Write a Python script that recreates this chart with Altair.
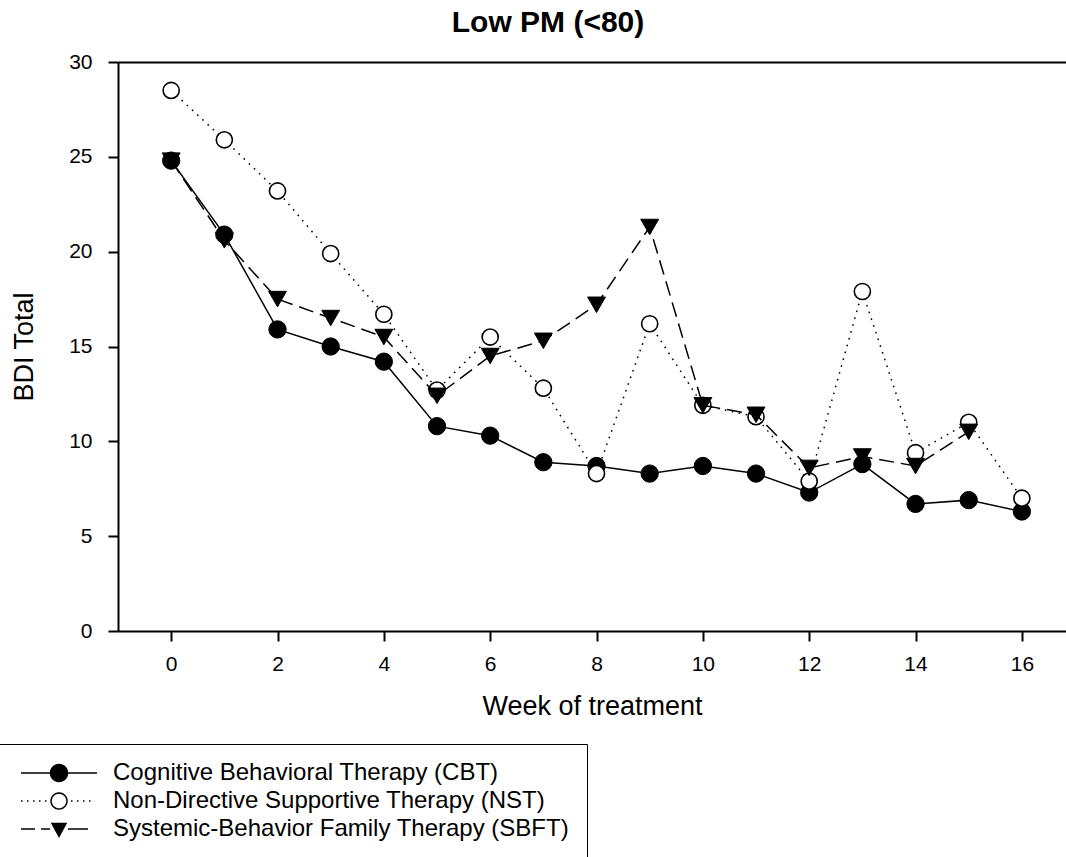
import math
import altair as alt
import pandas as pd

# ---------------- data ----------------
weeks = list(range(17))
series_names = [
    "Cognitive Behavioral Therapy (CBT)",
    "Non-Directive Supportive Therapy (NST)",
    "Systemic-Behavior Family Therapy (SBFT)",
]
cbt = [24.8, 20.9, 15.9, 15.0, 14.2, 10.8, 10.3, 8.9, 8.7, 8.3, 8.7, 8.3, 7.3, 8.8, 6.7, 6.9, 6.3]
nst = [28.5, 25.9, 23.2, 19.9, 16.7, 12.7, 15.5, 12.8, 8.3, 16.2, 11.9, 11.3, 7.9, 17.9, 9.4, 11.0, 7.0]
sbft = [24.8, 20.6, 17.5, 16.5, 15.5, 12.4, 14.5, 15.3, 17.2, 21.3, 11.9, 11.4, 8.6, 9.2, 8.7, 10.5]
x_ticks = [0, 2, 4, 6, 8, 10, 12, 14, 16]
y_ticks = [0, 5, 10, 15, 20, 25, 30]

rows = []
for name, vals in zip(series_names, [cbt, nst, sbft]):
    for w, v in zip(weeks, vals):
        rows.append({"week": w, "value": v, "series": name})
df = pd.DataFrame(rows)

FONT = "Liberation Sans"

# ---------------- legend symbols (custom paths: line + marker) ----------------
def circle_path(r, n=28):
    pts = [(r * math.cos(2 * math.pi * i / n), r * math.sin(2 * math.pi * i / n)) for i in range(n)]
    return "M" + "L".join(f"{x:.3f},{y:.3f}" for x, y in pts) + "Z"

sym_cbt = "M-3.8,0L3.8,0" + circle_path(0.85)
dots = [-3.8, -3.2, -2.6, -2.0, -1.4] + [1.2, 1.8, 2.4, 3.0]
sym_nst = "".join(f"M{d:.2f},0L{d + 0.15:.2f},0" for d in dots) + circle_path(0.8)
sym_sbft = ("M-3.8,0L-2.4,0M-1.8,0L-0.9,0M0.9,0L2.9,0"
            "M-0.7,-0.55L0.7,-0.55L0,0.75Z")
legend_paths = [sym_cbt, sym_nst, sym_sbft]

# ---------------- scales / axes ----------------
xscale = alt.Scale(domain=[-1, 16.83], nice=False, zero=False)
yscale = alt.Scale(domain=[0, 30], nice=False, zero=False)

x_axis_bottom = alt.Axis(
    values=x_ticks, format="d", title="Week of treatment", grid=False,
    labelFont=FONT, labelFontSize=21, labelColor="black", labelPadding=12,
    titleFont=FONT, titleFontSize=27, titleFontWeight="normal", titleColor="black",
    titlePadding=19, tickSize=10, tickWidth=2, tickColor="black",
    domainColor="black", domainWidth=2,
)
x_axis_top = alt.Axis(
    orient="top", ticks=False, labels=False, title=None, grid=False,
    domainColor="black", domainWidth=2,
)
y_axis = alt.Axis(
    values=y_ticks, format="d", title="BDI Total", grid=False,
    labelFont=FONT, labelFontSize=21, labelColor="black", labelPadding=16,
    titleFont=FONT, titleFontSize=27, titleFontWeight="normal", titleColor="black",
    titlePadding=30, tickSize=10, tickWidth=2, tickColor="black",
    domainColor="black", domainWidth=2,
)

Y = alt.Y("value:Q", scale=yscale, axis=y_axis)

styles = [
    # name, dash, shape, fill, size, marker stroke width
    (series_names[0], None, "circle", "black", 300, 1),
    (series_names[1], [1.6, 5.5], "circle", "white", 260, 1.6),
    (series_names[2], [15, 7], "triangle-down", "black", 320, 1),
]

layers = []
for i, (name, dash, shape, fill, size, msw) in enumerate(styles):
    sub = df[df["series"] == name]
    line_kw = dict(color="black", strokeWidth=1.5)
    if dash is not None:
        line_kw["strokeDash"] = dash
    if i == 0:
        xl = alt.X("week:Q", scale=xscale, axis=x_axis_bottom)
        xp = alt.X("week:Q", scale=xscale, axis=x_axis_top)
    else:
        xl = alt.X("week:Q", scale=xscale, axis=None)
        xp = alt.X("week:Q", scale=xscale, axis=None)
    line = alt.Chart(sub).mark_line(**line_kw).encode(x=xl, y=Y)
    pts = alt.Chart(sub).mark_point(
        shape=shape, filled=True, fill=fill, stroke="black",
        strokeWidth=msw, size=size, opacity=1,
    ).encode(x=xp, y=Y)
    layers += [line, pts]

leg = alt.Legend(
    title=None, orient="none", legendX=-119, legendY=682,
    strokeColor="black", fillColor="white", padding=17,
    symbolSize=400, symbolStrokeWidth=1.5, symbolStrokeColor="black",
    symbolOffset=31, labelOffset=42, rowPadding=4,
    labelFont=FONT, labelFontSize=24, labelColor="black", labelLimit=1000,
)
legend_layer = alt.Chart(df).transform_filter("false").mark_point(
    filled=True, strokeWidth=1.5, opacity=1
).encode(
    shape=alt.Shape("series:N", scale=alt.Scale(domain=series_names, range=legend_paths), legend=leg),
    fill=alt.Fill("series:N", scale=alt.Scale(domain=series_names, range=["black", "white", "black"]), legend=leg),
    stroke=alt.Stroke("series:N", scale=alt.Scale(domain=series_names, range=["black", "black", "black"]), legend=leg),
)
layers.append(legend_layer)

chart = alt.layer(*layers).resolve_axis(x="independent").properties(
    width=948, height=569,
    title=alt.TitleParams(
        "Low PM (<80)", font=FONT, fontSize=30, fontWeight="bold", color="black",
        anchor="middle", frame="group", baseline="bottom", offset=10, dx=-44, dy=27,
    ),
    autosize=alt.AutoSizeParams(type="none"),
    padding={"left": 118, "top": 62, "right": 0, "bottom": 226},
).configure_view(stroke=None).configure(background="white")

chart.save("out.html", embed_options={"renderer": "svg", "actions": False})
